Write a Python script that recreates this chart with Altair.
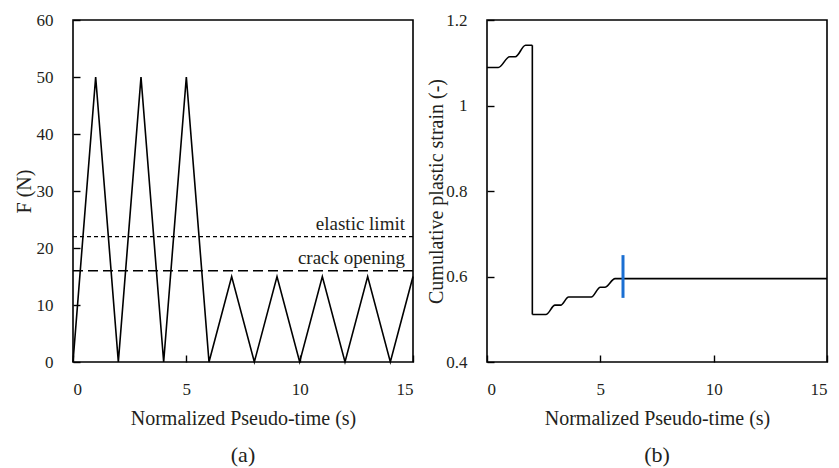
import altair as alt
import pandas as pd

# (a) applied load: triangular cycles
time_a = [0, 1, 2, 3, 4, 5, 6, 7, 8, 9, 10, 11, 12, 13, 14, 15]
force = [0, 50, 0, 50, 0, 50, 0, 15, 0, 15, 0, 15, 0, 15, 0, 15]

# reference levels on the force plot
level_names = ["elastic limit", "crack opening"]
level_values = [22, 16]

# (b) cumulative plastic strain, before and after the drop at t = 2
time_b1 = [0, 0.5, 1.0, 1.25, 1.7, 2.0]
strain_b1 = [1.089, 1.089, 1.114, 1.114, 1.141, 1.141]
time_b2 = [2.0, 2.6, 3.0, 3.25, 3.6, 4.6, 5.0, 5.2, 5.65, 15]
strain_b2 = [0.511, 0.511, 0.533, 0.533, 0.552, 0.552, 0.575, 0.575, 0.595, 0.595]
drop_time = [2.0]
drop_low = [0.511]
drop_high = [1.141]

# highlighted instant on the strain curve
marker_time = [6.0]
marker_low = [0.55]
marker_high = [0.65]

FONT = "'Liberation Serif', 'DejaVu Serif', serif"
INK = "#231f20"
W, H = 340, 342

df_a = pd.DataFrame({"t": time_a, "F": force})
df_lv = pd.DataFrame({"name": level_names, "F": level_values})
df_b = pd.concat([
    pd.DataFrame({"t": time_b1, "e": strain_b1, "seg": "before"}),
    pd.DataFrame({"t": time_b2, "e": strain_b2, "seg": "after"}),
])
df_drop = pd.DataFrame({"t": drop_time, "lo": drop_low, "hi": drop_high})
df_mark = pd.DataFrame({"t": marker_time, "lo": marker_low, "hi": marker_high})


def x_axis():
    # ticks point inward: the axis is pulled 7px inside the frame
    return alt.Axis(values=[0, 5, 10, 15], title="Normalized Pseudo-time (s)",
                    domain=False, grid=False, tickSize=7, offset=-7,
                    labelPadding=19, titleY=63, titleBaseline="middle")


def y_axis(vals, title, title_x, fmt=None):
    kw = dict(values=vals, title=title, domain=False, grid=False,
              tickSize=7, offset=-7, labelPadding=20,
              titleX=title_x, titleBaseline="middle")
    if fmt:
        kw["format"] = fmt
    return alt.Axis(**kw)


xa = alt.X("t:Q", scale=alt.Scale(domain=[0, 15], nice=False), axis=x_axis())

load = alt.Chart(df_a).mark_line(color="black", strokeWidth=1.6).encode(
    x=xa,
    y=alt.Y("F:Q", scale=alt.Scale(domain=[0, 60], nice=False),
            axis=y_axis([0, 10, 20, 30, 40, 50, 60], "F (N)", -56)),
)

elastic = alt.Chart(df_lv[df_lv.name == "elastic limit"]).mark_rule(
    color="black", strokeWidth=1.4, strokeDash=[4, 3]).encode(y="F:Q")
crack = alt.Chart(df_lv[df_lv.name == "crack opening"]).mark_rule(
    color="black", strokeWidth=1.4, strokeDash=[10, 5]).encode(y="F:Q")

level_text = alt.Chart(df_lv).mark_text(
    align="right", baseline="bottom", font=FONT, fontSize=19, color=INK, dy=-3
).encode(
    x=alt.value(W - 8),
    y="F:Q",
    text="name:N",
)

panel_a = alt.layer(load, elastic, crack, level_text).properties(
    width=W, height=H,
    title=alt.TitleParams("(a)", orient="bottom", anchor="middle",
                          font=FONT, fontSize=22, fontWeight="normal",
                          color=INK, offset=17),
)

strain = alt.Chart(df_b).mark_line(color="black", strokeWidth=1.6,
                                   interpolate="monotone").encode(
    x=xa,
    y=alt.Y("e:Q", scale=alt.Scale(domain=[0.4, 1.2], nice=False),
            axis=y_axis([0.4, 0.6, 0.8, 1.0, 1.2], "Cumulative plastic strain (-)", -58, "~g")),
    detail="seg:N",
)

drop = alt.Chart(df_drop).mark_rule(color="black", strokeWidth=1.6).encode(
    x="t:Q", y="lo:Q", y2="hi:Q")

marker = alt.Chart(df_mark).mark_rule(color="#1b6fd2", strokeWidth=3).encode(
    x="t:Q", y="lo:Q", y2="hi:Q")

panel_b = alt.layer(strain, drop, marker).properties(
    width=W, height=H,
    title=alt.TitleParams("(b)", orient="bottom", anchor="middle",
                          font=FONT, fontSize=22, fontWeight="normal",
                          color=INK, offset=17),
)

chart = alt.hconcat(panel_a, panel_b, spacing=8).properties(
    padding={"left": 13, "top": 10, "right": 0, "bottom": 0},
    background="white",
).configure_view(
    stroke="black", strokeWidth=1.6,
).configure_axis(
    labelFont=FONT, titleFont=FONT, labelFontSize=17, titleFontSize=20,
    labelColor=INK, titleColor=INK, titleFontWeight="normal",
    tickColor="black", tickWidth=1.4,
).configure_text(font=FONT)

chart.save("out.html", embed_options={"renderer": "svg", "actions": False})
